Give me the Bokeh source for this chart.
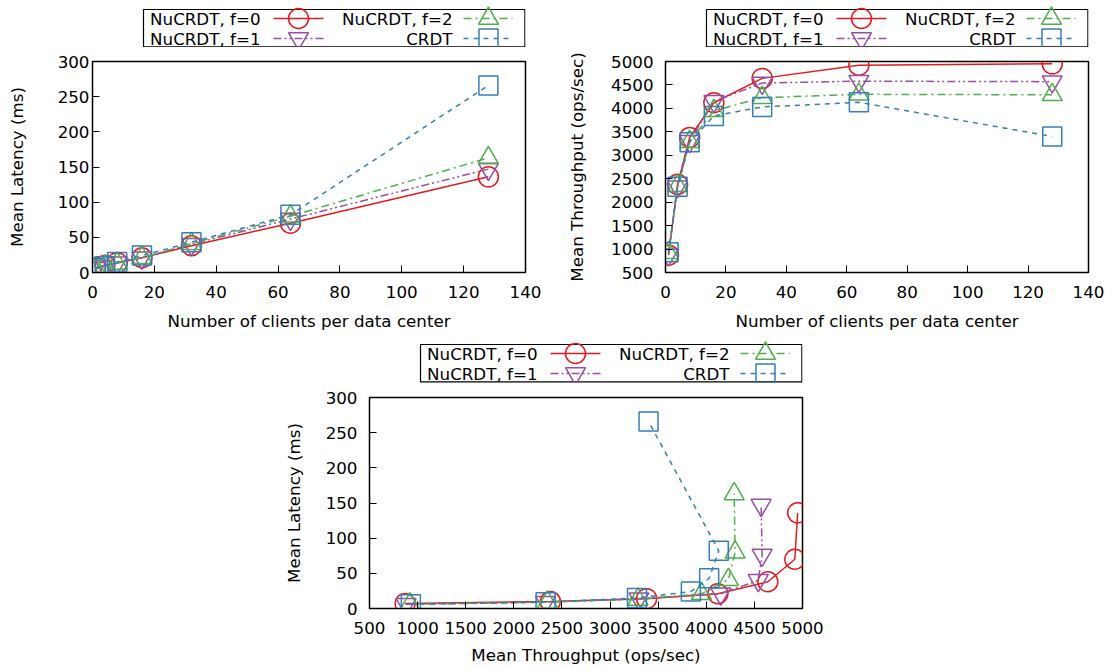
from bokeh.plotting import figure
from bokeh.layouts import column, row, Spacer
from bokeh.models import Range1d, FixedTicker
from bokeh.core.properties import value
from bokeh.embed import file_html
from bokeh.resources import INLINE

# ---------------- data ----------------
clients = [1, 4, 8, 16, 32, 64, 128]

lat_f0 = [7, 10, 14, 21, 38, 70, 136]
lat_f1 = [6, 9, 14, 21, 40, 76, 147]
lat_f2 = [6, 9, 13, 21, 41, 80, 163]
lat_crdt = [6, 9, 15, 24, 43, 82, 266]

thr_f0 = [870, 2380, 3380, 4120, 4640, 4920, 4950]
thr_f1 = [880, 2330, 3300, 4150, 4540, 4580, 4570]
thr_f2 = [920, 2350, 3290, 3950, 4230, 4300, 4290]
thr_crdt = [930, 2330, 3280, 3840, 4030, 4130, 3400]

names = ["NuCRDT, f=0", "NuCRDT, f=1", "NuCRDT, f=2", "CRDT"]
latencies = [lat_f0, lat_f1, lat_f2, lat_crdt]
throughputs = [thr_f0, thr_f1, thr_f2, thr_crdt]

x_ticks_clients = [0, 20, 40, 60, 80, 100, 120, 140]
y_ticks_latency = [0, 50, 100, 150, 200, 250, 300]
y_ticks_thr = [500, 1000, 1500, 2000, 2500, 3000, 3500, 4000, 4500, 5000]
x_ticks_thr = [500, 1000, 1500, 2000, 2500, 3000, 3500, 4000, 4500, 5000]

# ---------------- style ----------------
colors = ["#e41a1c", "#984ea3", "#4daf4a", "#377eb8"]
markers = ["circle", "inverted_triangle", "triangle", "square"]
msizes = [20, 20, 20, 19]
dashes = ["solid", "8 3 2 3 2 3", "8 4 2 4", "5 5"]
FONT = "DejaVu Sans"
FS = "16.7px"
LW = 1.5


def style_axes(p, xticks, yticks, xlabel, ylabel, xstand, xlstand, ystand, ylstand):
    p.xaxis.ticker = FixedTicker(ticks=xticks)
    p.yaxis.ticker = FixedTicker(ticks=yticks)
    p.xaxis.axis_label = xlabel
    p.yaxis.axis_label = ylabel
    for ax in (p.xaxis, p.yaxis):
        ax.major_tick_in = 7
        ax.major_tick_out = 0
        ax.minor_tick_line_color = None
        ax.axis_line_color = "black"
        ax.major_tick_line_color = "black"
        ax.major_label_text_font = FONT
        ax.major_label_text_font_size = FS
        ax.major_label_text_color = "black"
        ax.axis_label_text_font = FONT
        ax.axis_label_text_font_size = FS
        ax.axis_label_text_font_style = "normal"
        ax.axis_label_text_color = "black"
    p.xaxis.major_label_standoff = xstand
    p.xaxis.axis_label_standoff = xlstand
    p.yaxis.major_label_standoff = ystand
    p.yaxis.axis_label_standoff = ylstand
    p.xgrid.grid_line_color = None
    p.ygrid.grid_line_color = None
    p.outline_line_color = "black"
    p.outline_line_width = 1.5
    p.outline_line_alpha = 1


def main_fig(width, height, left, right, top, bottom, xr, yr):
    return figure(width=width, height=height, x_range=Range1d(*xr), y_range=Range1d(*yr),
                  output_backend="svg", toolbar_location=None,
                  min_border_left=left, min_border_right=right,
                  min_border_top=top, min_border_bottom=bottom,
                  background_fill_color="white", border_fill_color="white")


def draw_series(p, xs_list, ys_list):
    for xs, ys, c, m, s, d in zip(xs_list, ys_list, colors, markers, msizes, dashes):
        p.line(xs, ys, line_color=c, line_width=LW, line_dash=d)
        p.scatter(xs, ys, marker=m, size=s, fill_color=None, line_color=c, line_width=LW)


def legend_fig(width, height, left, right, x0, x1, y0, y1, bl, bt, br):
    # frame spans the same horizontal extent as the plot below (image pixel coordinates)
    p = figure(width=width, height=height, x_range=Range1d(x0, x1), y_range=Range1d(y1, y0),
               output_backend="svg", toolbar_location=None,
               x_axis_location=None, y_axis_location=None,
               min_border_left=left, min_border_right=right,
               min_border_top=0, min_border_bottom=0)
    p.outline_line_color = None
    p.xgrid.grid_line_color = None
    p.ygrid.grid_line_color = None
    p.quad(left=[bl], right=[br], top=[bt], bottom=[bt + 37.4],
           fill_color=None, line_color="black", line_width=1.2)
    slots = [
        (9, 117, 130, 180, 155),   # f=0
        (29, 117, 130, 180, 155),  # f=1
        (9, 309, 320, 369, 345),   # f=2
        (29, 309, 320, 369, 345),  # CRDT
    ]
    for (dy, tx, l0, l1, mx), n, c, m, s, d in zip(slots, names, colors, markers, msizes, dashes):
        y = bt + dy
        p.text(x=[bl + tx], y=[y], text=[n], text_align="right", text_baseline="middle",
               text_font=value(FONT), text_font_size=FS, text_color="black")
        p.line([bl + l0, bl + l1], [y, y], line_color=c, line_width=LW, line_dash=d)
        p.scatter([bl + mx], [y], marker=m, size=s, fill_color=None, line_color=c, line_width=LW)
    return p


# top-left: latency vs clients (fig x 0..556, frame 92..525, frame y 61..272)
leg_tl = legend_fig(556, 47, 92, 31, 92, 525, 0, 47, 143, 9, 524.4)
p_tl = main_fig(556, 289, 92, 31, 14, 64, (0, 140), (0, 300))
style_axes(p_tl, x_ticks_clients, y_ticks_latency, "Number of clients per data center",
           "Mean Latency (ms)", 13, 10, 3, 28)
draw_series(p_tl, [clients] * 4, latencies)

# top-right: throughput vs clients (fig x 556..1112, frame 665..1088)
leg_tr = legend_fig(556, 47, 109, 24, 665, 1088, 0, 47, 706, 9, 1087.4)
p_tr = main_fig(556, 289, 109, 24, 14, 64, (0, 140), (500, 5000))
style_axes(p_tr, x_ticks_clients, y_ticks_thr, "Number of clients per data center",
           "Mean Throughput (ops/sec)", 13, 10, 12, 21)
draw_series(p_tr, [clients] * 4, throughputs)

# bottom: latency vs throughput (fig x 280..832, frame 369..802, frame y 397..608)
leg_b = legend_fig(552, 47, 89, 30, 369, 802, 336, 383, 420, 344, 801.4)
p_b = main_fig(552, 286, 89, 30, 14, 61, (500, 5000), (0, 300))
style_axes(p_b, x_ticks_thr, y_ticks_latency, "Mean Throughput (ops/sec)",
           "Mean Latency (ms)", 13, 8, 12, 19)
draw_series(p_b, throughputs, latencies)

layout = column(
    row(column(leg_tl, p_tl), column(leg_tr, p_tr)),
    row(Spacer(width=280, height=333), column(leg_b, p_b)),
)

open("out.html", "w").write(file_html(layout, INLINE))
